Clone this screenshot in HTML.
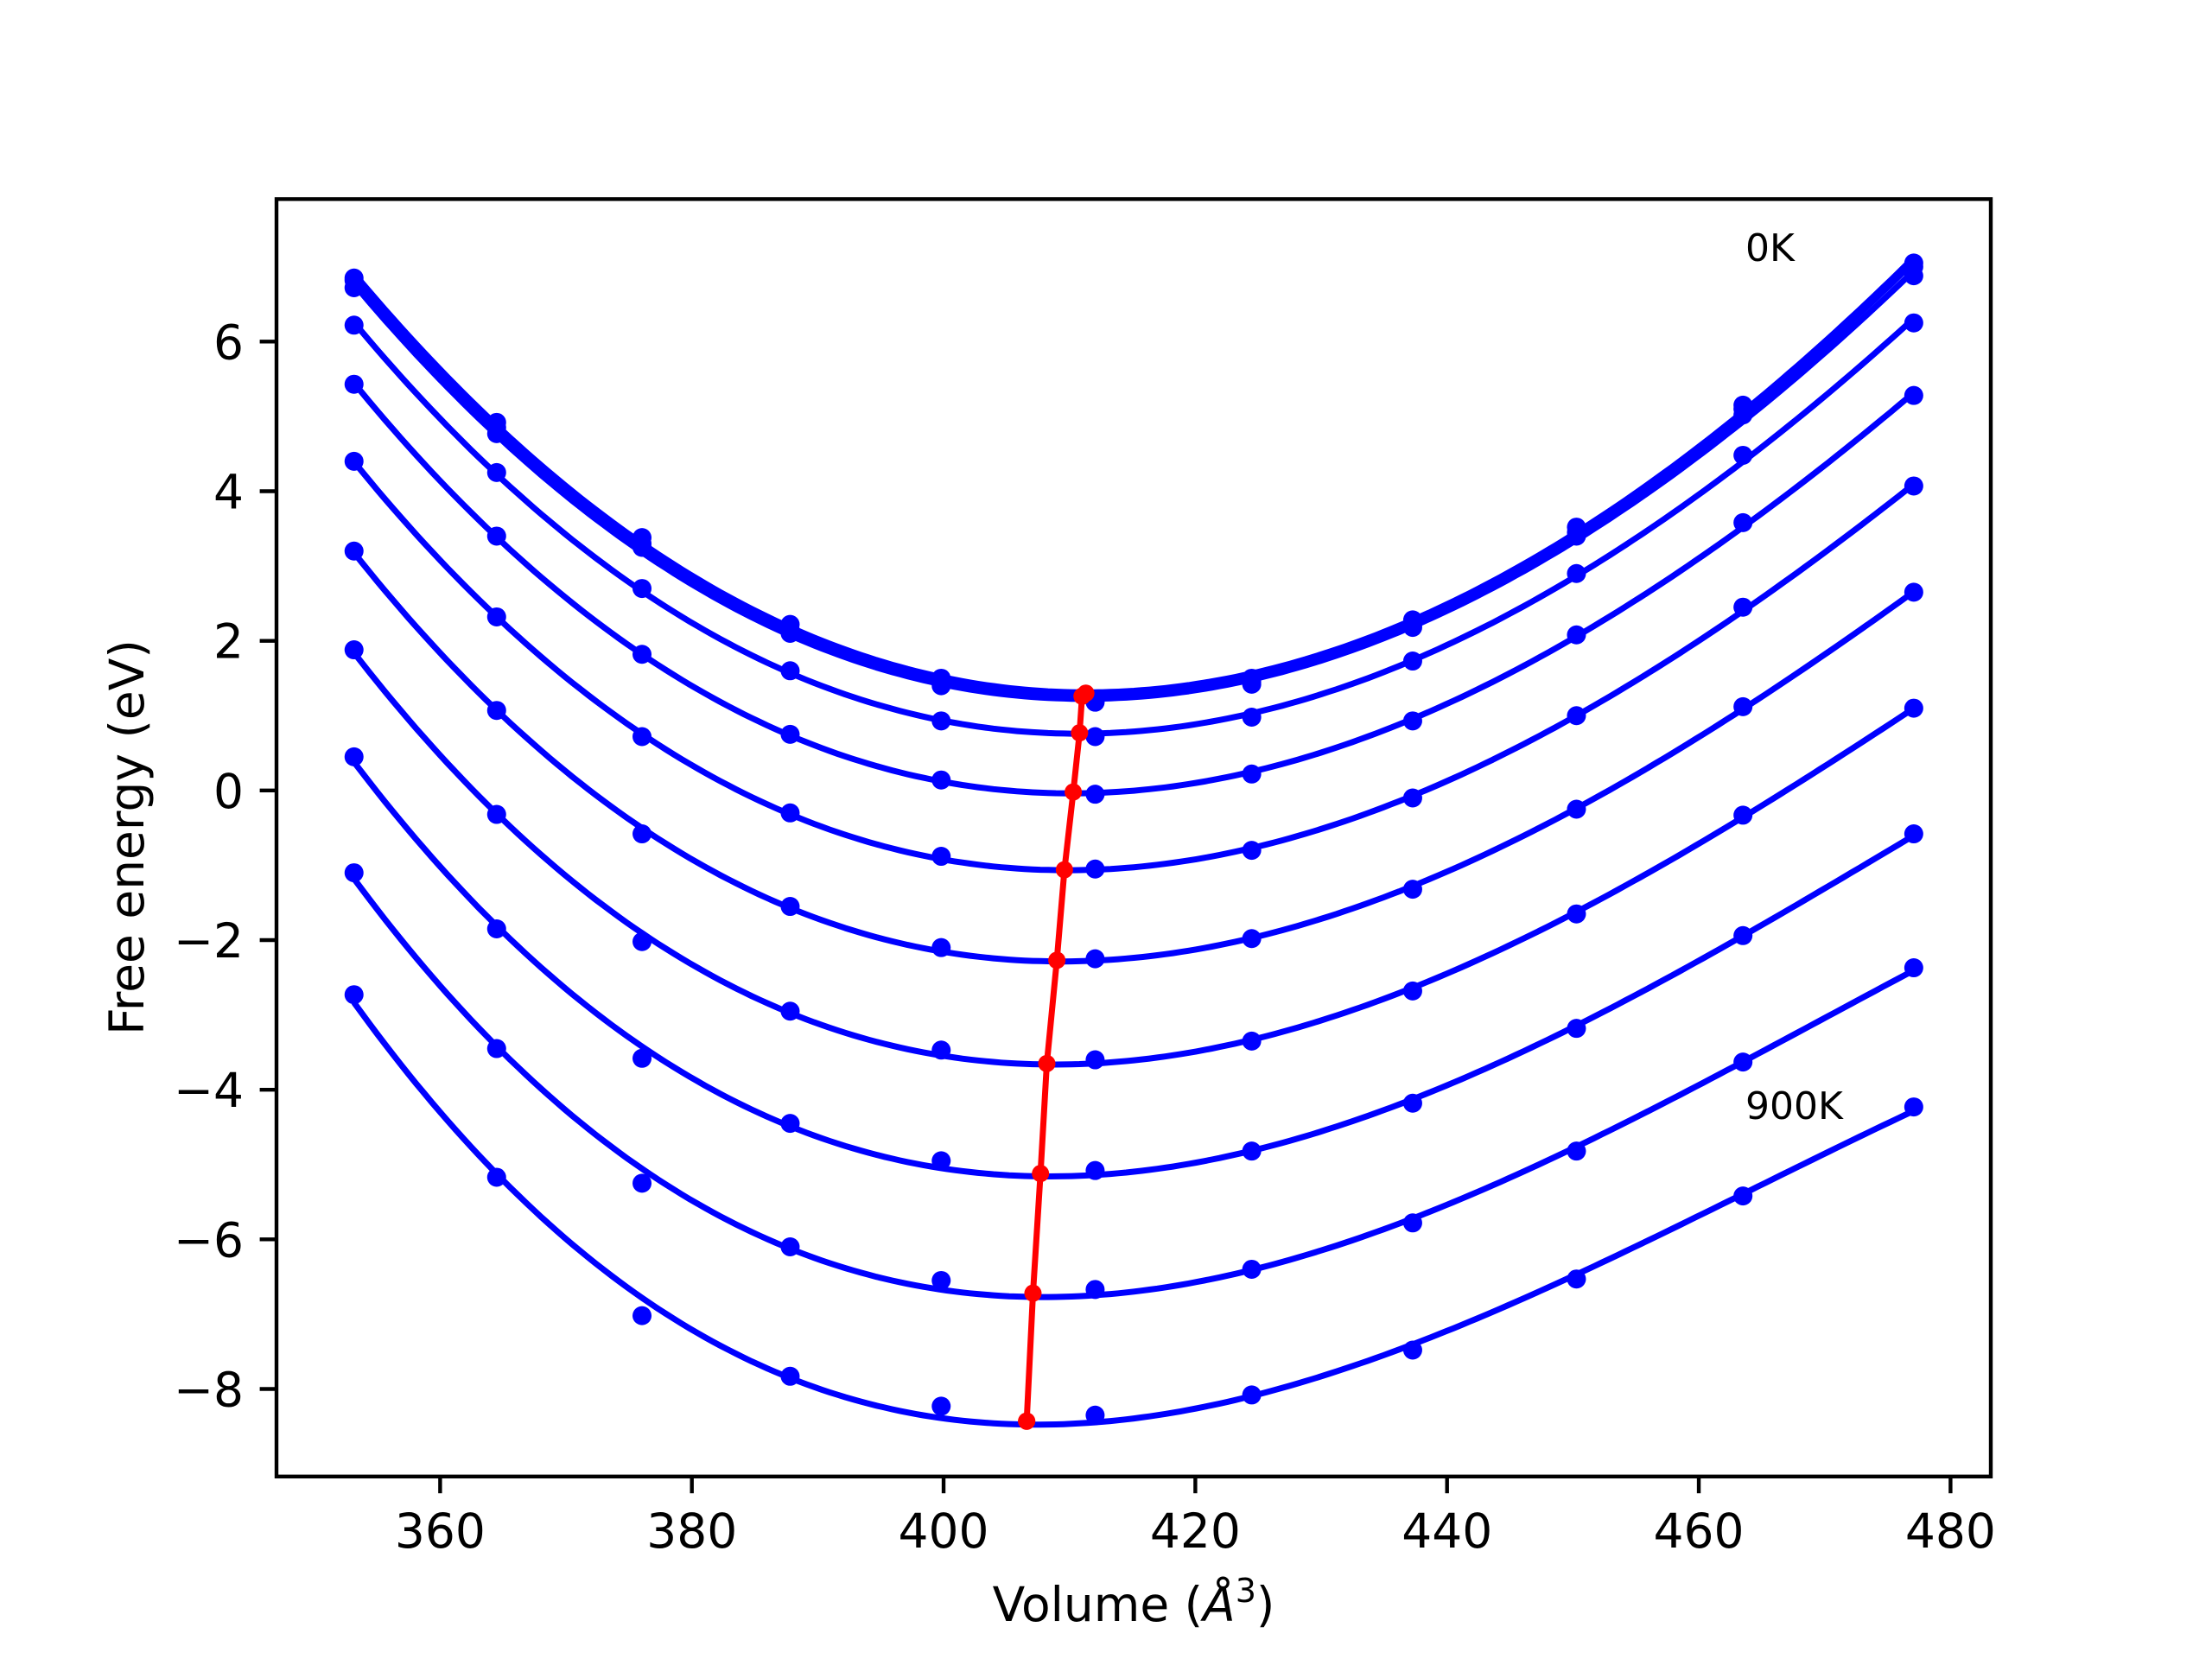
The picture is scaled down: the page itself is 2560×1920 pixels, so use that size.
<!DOCTYPE html>
<html><head><meta charset="utf-8"><style>
html,body{margin:0;padding:0;background:#fff}
svg{display:block}
text{font-family:"DejaVu Sans","Liberation Sans",sans-serif;fill:#000}
</style></head><body>
<svg id="chart" width="2560" height="1920" viewBox="0 0 2560 1920" xmlns="http://www.w3.org/2000/svg">
<rect width="2560" height="1920" fill="#fff"/>
<g id="plot"></g>
<g id="axes"></g>
<text x="1312" y="1876" text-anchor="middle" font-size="55">Volume (<tspan font-style="italic">Å</tspan><tspan font-size="38" dy="-22">3</tspan><tspan dy="22">)</tspan></text>
<text x="0" y="0" transform="translate(166,969) rotate(-90)" text-anchor="middle" font-size="55">Free energy (eV)</text>
<text x="2020" y="302" font-size="44">0K</text>
<text x="2020" y="1295" font-size="44">900K</text>
</svg>
<script>
const volumes = [353.16,364.49,376.04,387.81,399.81,412.04,424.48,437.27,450.28,463.51,477.08];
const energy0 = [6.85,4.92,3.38,2.22,1.50,1.22,1.50,2.28,3.52,5.15,7.05];
const energy1 = [6.82,4.85,3.30,2.15,1.45,1.20,1.45,2.22,3.45,5.10,7.00];
const energy2 = [6.72,4.77,3.25,2.10,1.40,1.18,1.42,2.18,3.40,5.02,6.88];
const energy3 = [6.22,4.25,2.70,1.60,0.93,0.72,0.98,1.73,2.90,4.48,6.25];
const energy4 = [5.43,3.40,1.82,0.75,0.14,-0.05,0.22,0.93,2.08,3.58,5.28];
const energy5 = [4.40,2.32,0.72,-0.30,-0.88,-1.05,-0.80,-0.10,1.00,2.45,4.07];
const energy6 = [3.20,1.07,-0.58,-1.55,-2.10,-2.25,-1.98,-1.32,-0.25,1.12,2.65];
const energy7 = [1.88,-0.32,-2.02,-2.95,-3.47,-3.60,-3.35,-2.68,-1.65,-0.33,1.10];
const energy8 = [0.45,-1.85,-3.58,-4.45,-4.95,-5.08,-4.82,-4.18,-3.18,-1.94,-0.58];
const energy9 = [-1.10,-3.45,-5.25,-6.10,-6.55,-6.67,-6.40,-5.78,-4.82,-3.63,-2.37];
const energy10 = [-2.73,-5.17,-7.02,-7.83,-8.23,-8.35,-8.08,-7.48,-6.53,-5.42,-4.23];
const minVolume = [411.3,411.0,410.8,410.3,409.6,409.0,408.2,407.7,407.1,406.6,406.6];
const minEnergy = [1.30,1.26,0.77,-0.02,-1.06,-2.27,-3.65,-5.12,-6.72,-8.43,-8.43];
const xTicks = [360,380,400,420,440,460,480];
const yTicks = [-8,-6,-4,-2,0,2,4,6];
const yTickLabels = ["\u22128","\u22126","\u22124","\u22122","0","2","4","6"];

const series = [energy0,energy1,energy2,energy3,energy4,energy5,energy6,energy7,energy8,energy9,energy10];
const redV = minVolume.slice(0,10).concat([]);
const L=320,R=2304,T=230.4,B=1708.8;
const xmin=347.0,xmax=483.2,ymin=-9.17,ymax=7.905;
const sx=v=>L+(v-xmin)/(xmax-xmin)*(R-L);
const sy=v=>B-(v-ymin)/(ymax-ymin)*(B-T);
const NS="http://www.w3.org/2000/svg";
const plot=document.getElementById('plot'), axes=document.getElementById('axes');
function mk(tag,attrs,parent){const e=document.createElementNS(NS,tag);for(const k in attrs)e.setAttribute(k,attrs[k]);parent.appendChild(e);return e;}
function cubicFit(xs,ys){
  const c=(xs[0]+xs[xs.length-1])/2, s=(xs[xs.length-1]-xs[0])/2;
  const n=4, A=[...Array(n)].map(()=>Array(n+1).fill(0));
  xs.forEach((x,i)=>{const t=(x-c)/s;const p=[1,t,t*t,t*t*t];
    for(let r=0;r<n;r++){for(let q=0;q<n;q++)A[r][q]+=p[r]*p[q];A[r][n]+=p[r]*ys[i];}});
  for(let i=0;i<n;i++){let m=i;for(let r=i+1;r<n;r++)if(Math.abs(A[r][i])>Math.abs(A[m][i]))m=r;[A[i],A[m]]=[A[m],A[i]];
    for(let r=0;r<n;r++){if(r===i)continue;const f=A[r][i]/A[i][i];for(let q=i;q<=n;q++)A[r][q]-=f*A[i][q];}}
  const co=A.map((row,i)=>row[n]/row[i]);
  return x=>{const t=(x-c)/s;return co[0]+co[1]*t+co[2]*t*t+co[3]*t*t*t;};
}
series.forEach((ys,k)=>{
  const f=cubicFit(volumes,ys);
  let d='';const x0=volumes[0],x1=volumes[volumes.length-1];
  for(let i=0;i<=200;i++){const x=x0+(x1-x0)*i/200;d+=(i?'L':'M')+sx(x).toFixed(1)+','+sy(f(x)).toFixed(1);}
  const p=mk('path',{d:d,fill:'none',stroke:'#0000ff','stroke-width':7,'stroke-linejoin':'round'},plot);
  
  
});
series.forEach((ys,k)=>{
  ys.forEach((y,i)=>{
    const c=mk('circle',{cx:sx(volumes[i]),cy:sy(y),r:11,fill:'#0000ff'},plot);
    
    
  });
});
{
  const n=Math.min(minVolume.length,minEnergy.length);
  let d='';for(let i=0;i<n;i++)d+=(i?'L':'M')+sx(minVolume[i]).toFixed(1)+','+sy(minEnergy[i]).toFixed(1);
  const p=mk('path',{d:d,fill:'none',stroke:'#ff0000','stroke-width':7,'stroke-linejoin':'round'},plot);
  
  
  for(let i=0;i<n;i++){
    const c=mk('circle',{cx:sx(minVolume[i]),cy:sy(minEnergy[i]),r:10,fill:'#ff0000'},plot);
    
    
  }
}
const frame=mk('rect',{x:L,y:T,width:R-L,height:B-T,fill:'none',stroke:'#000','stroke-width':4.4},axes);


xTicks.forEach(v=>{
  const x=sx(v);
  const t=mk('line',{x1:x,y1:B,x2:x,y2:B+19.4,stroke:'#000','stroke-width':4.4},axes);
  
  
  const l=mk('text',{x:x,y:B+82,'text-anchor':'middle','font-size':55},axes);
  l.textContent=String(v);
  
  
});
yTicks.forEach((v,i)=>{
  const y=sy(v);
  const t=mk('line',{x1:L-19.4,y1:y,x2:L,y2:y,stroke:'#000','stroke-width':4.4},axes);
  
  
  const l=mk('text',{x:L-38,y:y+20,'text-anchor':'end','font-size':55},axes);
  l.textContent=yTickLabels[i];
  
  
});
</script>
</body></html>
